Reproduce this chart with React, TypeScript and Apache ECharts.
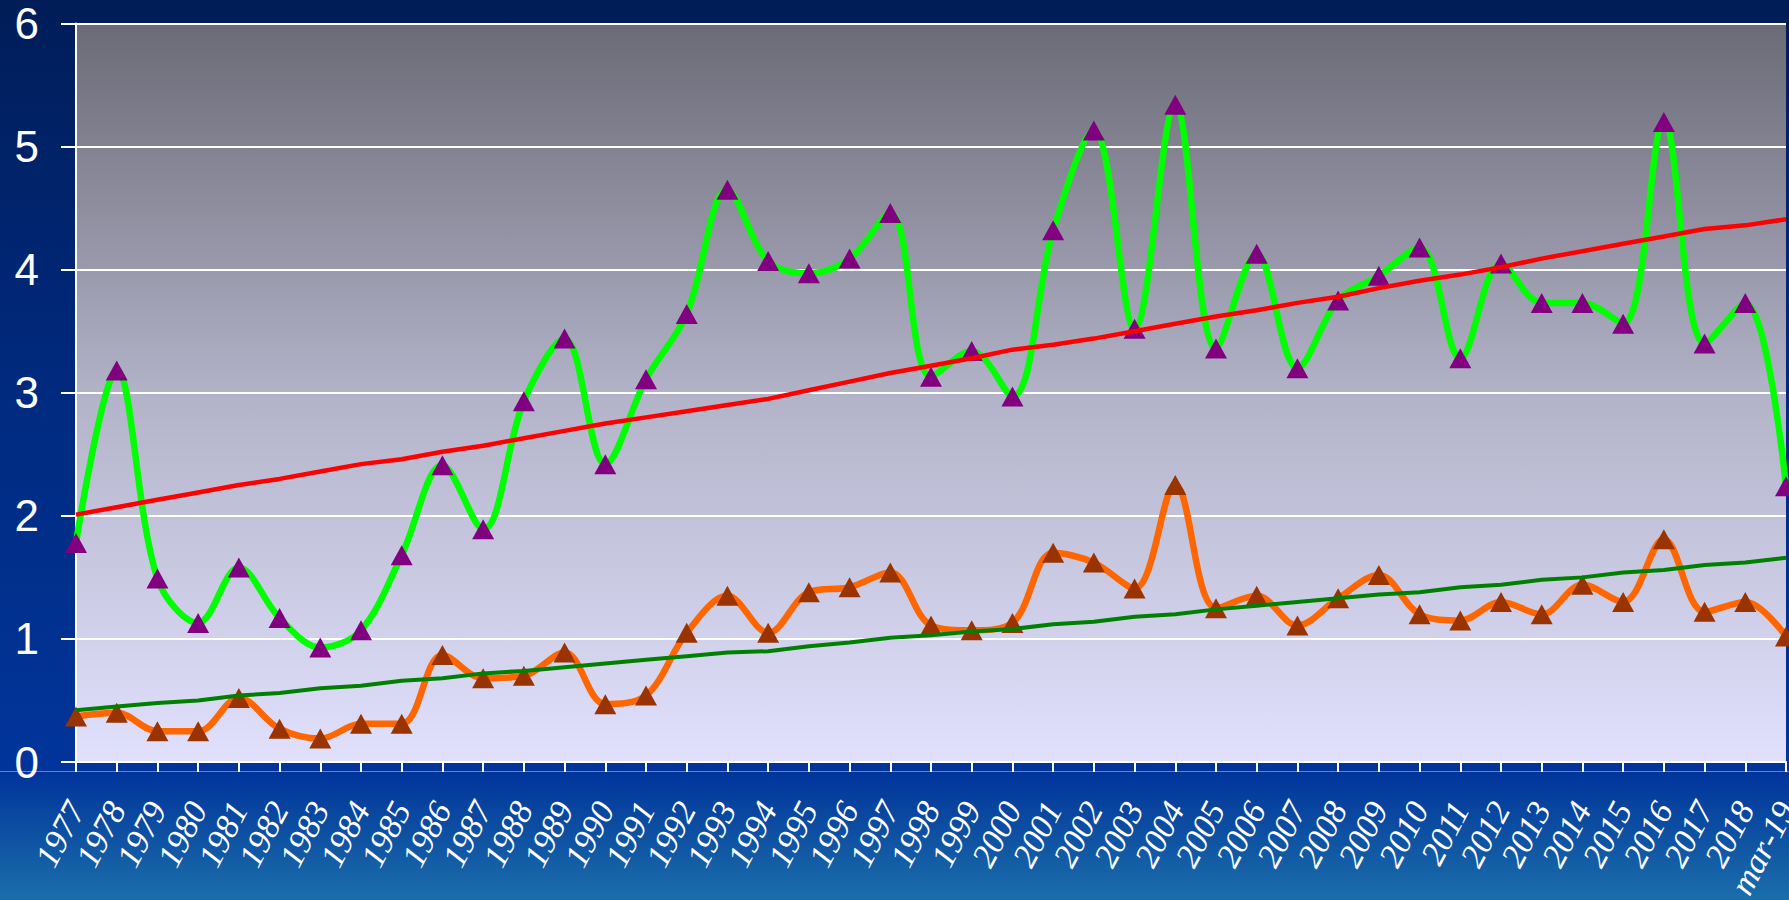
import React, { useEffect, useRef } from "react";
import * as echarts from "echarts";

const categories = [
  "1977", "1978", "1979", "1980", "1981", "1982", "1983", "1984", "1985", "1986",
  "1987", "1988", "1989", "1990", "1991", "1992", "1993", "1994", "1995", "1996",
  "1997", "1998", "1999", "2000", "2001", "2002", "2003", "2004", "2005", "2006",
  "2007", "2008", "2009", "2010", "2011", "2012", "2013", "2014", "2015", "2016",
  "2017", "2018", "mar-19",
];

const greenValues = [
  1.78, 3.18, 1.49, 1.13, 1.58, 1.17, 0.93, 1.07, 1.68, 2.41,
  1.89, 2.93, 3.44, 2.42, 3.11, 3.64, 4.65, 4.07, 3.97, 4.09,
  4.46, 3.13, 3.34, 2.97, 4.32, 5.13, 3.52, 5.34, 3.36, 4.13,
  3.20, 3.75, 3.95, 4.18, 3.28, 4.05, 3.73, 3.73, 3.56, 5.20,
  3.40, 3.73, 2.24,
];

const orangeValues = [
  0.37, 0.40, 0.25, 0.25, 0.52, 0.27, 0.19, 0.31, 0.31, 0.87,
  0.68, 0.70, 0.89, 0.47, 0.54, 1.05, 1.35, 1.05, 1.38, 1.42,
  1.54, 1.11, 1.07, 1.13, 1.70, 1.62, 1.41, 2.25, 1.25, 1.35,
  1.11, 1.33, 1.52, 1.20, 1.15, 1.30, 1.20, 1.44, 1.30, 1.81,
  1.22, 1.30, 1.02,
];

const redTrend = [
  2.01, 2.07, 2.13, 2.19, 2.25, 2.30, 2.36, 2.42, 2.46, 2.52,
  2.57, 2.63, 2.69, 2.75, 2.80, 2.85, 2.90, 2.95, 3.02, 3.09,
  3.16, 3.22, 3.28, 3.35, 3.39, 3.44, 3.50, 3.56, 3.62, 3.67,
  3.73, 3.78, 3.85, 3.91, 3.96, 4.02, 4.09, 4.15, 4.21, 4.27,
  4.33, 4.36, 4.41,
];

const darkGreenTrend = [
  0.42, 0.45, 0.48, 0.50, 0.54, 0.56, 0.60, 0.62, 0.66, 0.68,
  0.72, 0.74, 0.77, 0.80, 0.83, 0.86, 0.89, 0.90, 0.94, 0.97,
  1.01, 1.03, 1.06, 1.08, 1.12, 1.14, 1.18, 1.20, 1.24, 1.27,
  1.30, 1.33, 1.36, 1.38, 1.42, 1.44, 1.48, 1.50, 1.54, 1.56,
  1.60, 1.62, 1.66,
];

const yTicks = { min: 0, max: 6, interval: 1 };

export default function App() {
  const ref = useRef<HTMLDivElement>(null);

  useEffect(() => {
    if (!ref.current) return;
    const chart = echarts.init(ref.current, null, { renderer: "svg" });
    chart.setOption({
      animation: false,
      backgroundColor: "transparent",
      grid: {
        left: 76,
        right: 3,
        top: 23.5,
        bottom: 138,
        show: true,
        borderWidth: 0,
        containLabel: false,
        outerBoundsMode: "none",
        backgroundColor: new echarts.graphic.LinearGradient(0, 0, 0, 1, [
          { offset: 0, color: "#6B6A76" },
          { offset: 0.5, color: "#B2B2C8" },
          { offset: 1, color: "#E1E1FE" },
        ]),
      },
      graphic: [
        {
          type: "line",
          shape: { x1: 0, y1: 771.5, x2: 1789, y2: 771.5 },
          style: { stroke: "rgba(120,150,215,0.8)", lineWidth: 1 },
          silent: true,
        },
      ],
      xAxis: {
        type: "category",
        data: categories,
        boundaryGap: false,
        axisLine: { show: true, lineStyle: { color: "#FFFFFF", width: 2 } },
        axisTick: {
          show: true,
          interval: 0,
          length: 10,
          lineStyle: { color: "#FFFFFF", width: 2 },
        },
        axisLabel: {
          interval: 0,
          rotate: 62,
          color: "#FFFFFF",
          fontFamily: '"Liberation Serif", "Times New Roman", serif',
          fontStyle: "italic",
          fontSize: 34,
          margin: 42,
        },
        splitLine: { show: false },
      },
      yAxis: {
        type: "value",
        min: yTicks.min,
        max: yTicks.max,
        interval: yTicks.interval,
        axisLine: { show: true, lineStyle: { color: "#FFFFFF", width: 2 } },
        axisTick: { show: true, length: 15, lineStyle: { color: "#FFFFFF", width: 2 } },
        axisLabel: {
          color: "#FFFFFF",
          fontFamily: '"Liberation Sans", Arial, sans-serif',
          fontSize: 44,
          margin: 37,
        },
        splitLine: { show: true, lineStyle: { color: "#FFFFFF", width: 2 } },
      },
      series: [
        {
          name: "green",
          type: "line",
          data: greenValues,
          smooth: 0.35,
          symbol: "triangle",
          symbolSize: [22, 20],
          showAllSymbol: true,
          clip: false,
          lineStyle: { color: "#00FF00", width: 6.5 },
          itemStyle: { color: "#800080" },
          z: 2,
        },
        {
          name: "orange",
          type: "line",
          data: orangeValues,
          smooth: 0.35,
          symbol: "triangle",
          symbolSize: [22, 20],
          showAllSymbol: true,
          clip: false,
          lineStyle: { color: "#FF6600", width: 6.5 },
          itemStyle: { color: "#993300" },
          z: 2,
        },
        {
          name: "redTrend",
          type: "line",
          data: redTrend,
          symbol: "none",
          clip: false,
          lineStyle: { color: "#FF0000", width: 4.5 },
          itemStyle: { color: "#FF0000" },
          z: 3,
        },
        {
          name: "darkGreenTrend",
          type: "line",
          data: darkGreenTrend,
          symbol: "none",
          clip: false,
          lineStyle: { color: "#008000", width: 4 },
          itemStyle: { color: "#008000" },
          z: 3,
        },
      ],
    });
    return () => chart.dispose();
  }, []);

  return (
    <div
      style={{
        position: "fixed",
        left: 0,
        top: 0,
        width: 1789,
        height: 900,
        overflow: "hidden",
        background:
          "linear-gradient(to bottom, #001D58 0%, #00297C 40%, #01359B 86%, #1B6EAA 100%)",
      }}
    >
      <div ref={ref} style={{ width: 1789, height: 900 }} />
    </div>
  );
}
